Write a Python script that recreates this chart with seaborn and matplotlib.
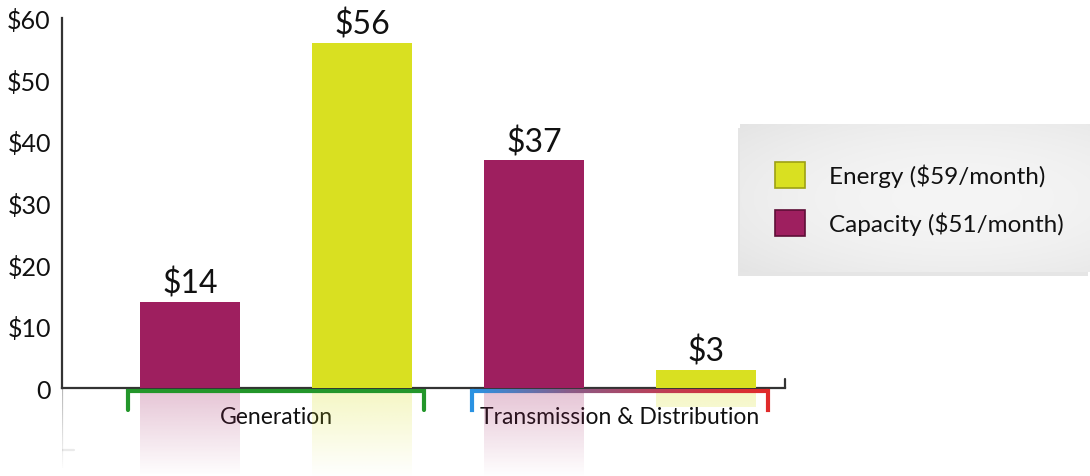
import numpy as np
import pandas as pd
import seaborn as sns
import matplotlib.pyplot as plt
from matplotlib.patches import Patch, Rectangle
from matplotlib.collections import LineCollection
from matplotlib.colors import LinearSegmentedColormap, to_rgb

# data
groups = ['Generation', 'Transmission & Distribution']
kinds = ['Capacity', 'Energy']
capacity = [14, 37]
energy = [56, 3]
yticks = [0, 10, 20, 30, 40, 50, 60]
ytick_labels = ['0', '$10', '$20', '$30', '$40', '$50', '$60']

colors = {'Capacity': '#9e1f5f', 'Energy': '#d9e021'}

df = pd.DataFrame({
    'group': groups * 2,
    'kind': ['Capacity'] * len(groups) + ['Energy'] * len(groups),
    'value': capacity + energy,
})

sns.set_style('white')
plt.rcParams['font.family'] = ['Lato', 'DejaVu Sans']

W, H = 1090, 477
fig = plt.figure(figsize=(W / 100, H / 100), dpi=100)
ax = fig.add_axes([62 / W, 0, 723 / W, 458 / H])

sns.barplot(data=df, x='group', y='value', hue='kind', order=groups,
            hue_order=kinds, palette=colors, width=1.0, gap=0.42,
            saturation=1, legend=False, ax=ax, zorder=3,
            linewidth=0, edgecolor='none')

xlim = (-0.622, 1.480)
ylim = (-14.27, 60)

# value labels
for cont in ax.containers:
    ax.bar_label(cont, labels=[f'${v:.0f}' for v in cont.datavalues],
                 padding=2, fontsize=23, color='#111111')

# faded reflections under the axis
fade = 14.5
for p in list(ax.patches):
    x, w, h = p.get_x(), p.get_width(), p.get_height()
    if h <= 0:
        continue
    rgb = to_rgb(p.get_facecolor())
    n = 200
    d = np.linspace(0, h, n)
    img = np.zeros((n, 1, 4))
    img[:, 0, :3] = rgb
    img[:, 0, 3] = np.clip(0.27 * (1 - d / fade), 0, 1)
    ax.imshow(img, extent=(x, x + w, -h, 0), origin='upper',
              aspect='auto', zorder=1, interpolation='bilinear')

# axes styling
sns.despine(ax=ax)
ax.spines['bottom'].set_position(('data', 0))
ax.spines['left'].set_bounds(0, 60)
for s in ['left', 'bottom']:
    ax.spines[s].set_color('#333333')
    ax.spines[s].set_linewidth(1.6)
ax.set_xlabel('')
ax.set_ylabel('')
ax.set_xticks(range(len(groups)), groups)
ax.tick_params(axis='x', length=0, pad=13, labelsize=16.5, labelcolor='#111111')
ax.set_yticks(yticks, ytick_labels)
ax.tick_params(axis='y', direction='in', length=9, width=1.6,
               color='#333333', pad=8, labelsize=18, labelcolor='#111111')

# right end tick of x axis
ax.plot([xlim[1], xlim[1]], [0, 1.5], color='#333333', lw=1.6, clip_on=False)

# faded extension of the y axis
ys = np.linspace(0, -13, 40)
segs = [[(xlim[0], ys[i]), (xlim[0], ys[i + 1])] for i in range(len(ys) - 1)]
alphas = np.linspace(0.35, 0.02, len(segs))
ax.add_collection(LineCollection(segs, colors=[(0.2, 0.2, 0.2, a) for a in alphas],
                                 linewidths=1.6, zorder=2))
ax.plot([xlim[0], xlim[0] + 0.036], [-10, -10], color='#333333', alpha=0.1, lw=1.6)

# brackets under the categories
half = 0.43
ylo, yhi = -3.5, -0.5
ax.plot([-half, -half, half, half], [ylo, yhi, yhi, ylo], color='#23962a',
        lw=3, solid_joinstyle='miter', clip_on=False, zorder=4)

cmap = LinearSegmentedColormap.from_list('td', ['#2a92e2', '#8a5a86', '#c03c52', '#e02a2a'])
x0, x1 = 1 - half, 1 + half
xs = np.linspace(x0, x1, 120)
hsegs = [[(xs[i], yhi), (xs[i + 1], yhi)] for i in range(len(xs) - 1)]
hcols = [cmap(i / (len(hsegs) - 1)) for i in range(len(hsegs))]
ax.add_collection(LineCollection(hsegs, colors=hcols, linewidths=3, zorder=4,
                                 capstyle='butt'))
ax.plot([x0, x0], [ylo, yhi], color=cmap(0.0), lw=3, solid_capstyle='projecting', zorder=4)
ax.plot([x1, x1], [ylo, yhi], color=cmap(1.0), lw=3, solid_capstyle='projecting', zorder=4)

ax.set_xlim(*xlim)
ax.set_ylim(*ylim)

# legend panel
bx, by, bw, bh = 740 / W, 1 - 273 / H, 350 / W, 148 / H
fig.add_artist(Rectangle((bx - 2 / W, by - 4 / H), bw, bh, transform=fig.transFigure,
                         facecolor='#9a9a9a', alpha=0.25, edgecolor='none', zorder=0.5))
lax = fig.add_axes([bx, by, bw, bh], zorder=1)
gx, gy = np.meshgrid(np.linspace(0, 1, 200), np.linspace(0, 1, 80))
g = 0.96 - 0.09 * (gx - 0.62) ** 2 - 0.12 * (gy - 0.5) ** 2
g = np.clip(g, 0, 1)
lax.imshow(np.dstack([g, g, g]), aspect='auto', extent=(0, 1, 0, 1))
lax.axis('off')

handles = [
    Patch(facecolor=colors['Energy'], edgecolor='#9da114', linewidth=1.2,
          label=f'Energy (${sum(energy)}/month)'),
    Patch(facecolor=colors['Capacity'], edgecolor='#5e0f37', linewidth=1.2,
          label=f'Capacity (${sum(capacity)}/month)'),
]
leg = fig.legend(handles=handles, loc='center left',
                 bbox_to_anchor=(775 / W, 1 - 200 / H), frameon=False,
                 fontsize=17.5, handlelength=1.23, handleheight=1.23,
                 handletextpad=1.0, labelspacing=0.92, borderpad=0,
                 borderaxespad=0)
leg.set_zorder(5)
for t in leg.get_texts():
    t.set_color('#111111')

fig.savefig('out.png', dpi=100)
